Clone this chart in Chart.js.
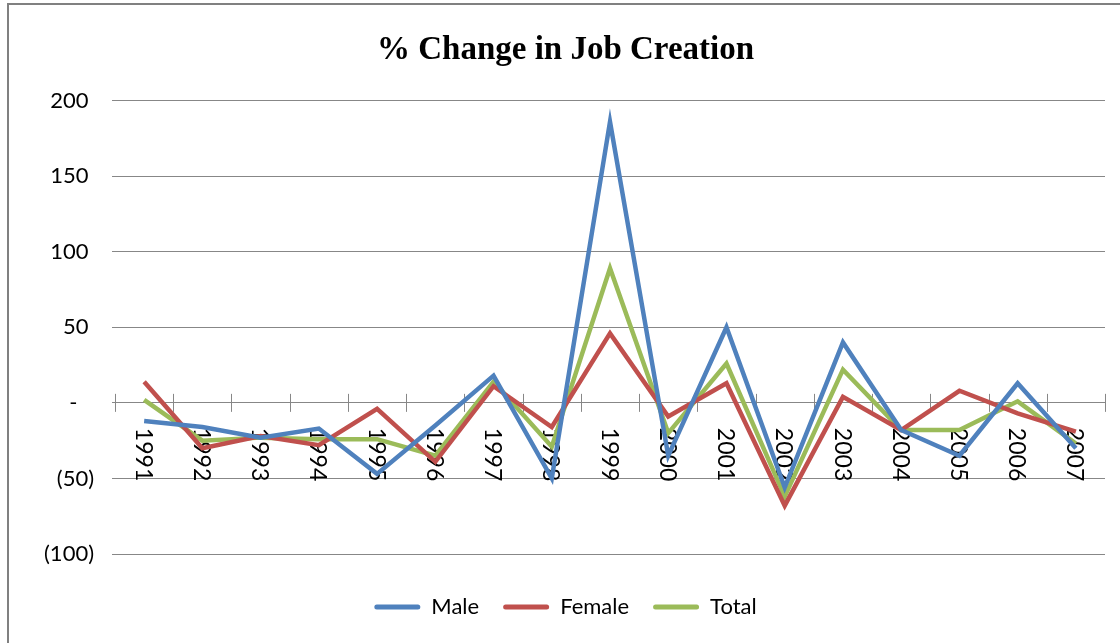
<!DOCTYPE html>
<html>
<head>
<meta charset="utf-8">
<script src="https://cdn.jsdelivr.net/npm/chart.js@4.4.0/dist/chart.umd.min.js"></script>
<style>
html, body { margin: 0; padding: 0; background: #fff; overflow: hidden; }
#wrap { position: relative; width: 1120px; height: 643px; overflow: hidden; }
#c { position: absolute; left: 0; top: 0; }
#frame { position: absolute; left: 7px; top: 3px; width: 1200px; height: 700px;
  border-left: 2px solid #808080; border-top: 2px solid #808080; pointer-events: none; }
</style>
</head>
<body>
<div id="wrap">
  <canvas id="c" width="1120" height="643" style="width:1120px;height:643px"></canvas>
  <div id="frame"></div>
</div>
<script>
// ---- data ----
const years  = ['1991','1992','1993','1994','1995','1996','1997','1998','1999','2000','2001','2002','2003','2004','2005','2006','2007'];
const male   = [-12, -16, -23, -17, -47, -15, 18, -50, 186, -35, 50, -56, 40, -18, -35, 13, -30];
const female = [14, -30, -22, -28, -4, -39, 11, -16, 46, -9, 13, -68, 4, -18, 8, -7, -19];
const total  = [2, -25, -23, -24, -24, -35, 14, -29, 89, -20, 26, -62, 22, -18, -18, 1, -27];
const seriesNames = ['Male', 'Female', 'Total'];
const yTicks = { min: -100, max: 200, step: 50 };
const chartTitle = '% Change in Job Creation';

const colors = ['#4F81BD', '#C0504D', '#9BBB59'];
const gridColor = '#878787';

Chart.defaults.font.family = 'Lato';
Chart.defaults.color = '#000';

function accounting(v) {
  if (v > 0) return v + '\u2005';
  if (v === 0) return '-\u2003';
  return '(' + (-v) + ')';
}

const xLabelPlugin = {
  id: 'xLabels',
  beforeDatasetsDraw(chart) {
    const { ctx, scales: { x, y } } = chart;
    const y0 = y.getPixelForValue(0);
    ctx.save();
    ctx.strokeStyle = gridColor;
    ctx.lineWidth = 1;
    for (let i = 0; i <= years.length; i++) {
      const px = Math.round(x.getPixelForValue(i - 0.5)) + 0.5;
      ctx.beginPath();
      ctx.moveTo(px, y0 - 9);
      ctx.lineTo(px, y0 + 9);
      ctx.stroke();
    }
    ctx.fillStyle = '#000';
    ctx.font = '23px Lato';
    ctx.textAlign = 'left';
    ctx.textBaseline = 'middle';
    years.forEach((lab, i) => {
      const px = x.getPixelForValue(i);
      ctx.save();
      ctx.translate(px - 1, y0 + 25);
      ctx.rotate(Math.PI / 2);
      ctx.fillText(lab, 0, 0);
      ctx.restore();
    });
    ctx.restore();
  }
};

const seriesData = [male, female, total];

new Chart(document.getElementById('c'), {
  type: 'line',
  data: {
    labels: years,
    datasets: seriesData.map((d, i) => ({
      label: seriesNames[i],
      data: d,
      borderColor: colors[i],
      backgroundColor: colors[i],
      borderWidth: 4.5,
      pointRadius: 0,
      pointHoverRadius: 0,
      tension: 0,
      fill: false
    }))
  },
  options: {
    responsive: false,
    animation: false,
    devicePixelRatio: 1,
    layout: { padding: { left: 26, right: 15, top: 8, bottom: 15 } },
    plugins: {
      title: {
        display: true,
        text: chartTitle,
        color: '#000',
        font: { family: 'Liberation Serif', size: 33, weight: 'bold' },
        padding: { top: 23, bottom: 30 }
      },
      legend: {
        position: 'bottom',
        labels: {
          font: { size: 22 },
          color: '#000',
          boxWidth: 46,
          boxHeight: 5,
          padding: 24,
          useBorderRadius: true,
          borderRadius: 2.5,
          generateLabels(chart) {
            return chart.data.datasets.map((ds, i) => ({
              text: ds.label,
              fillStyle: ds.borderColor,
              strokeStyle: ds.borderColor,
              lineWidth: 0,
              borderRadius: 2.5,
              fontColor: '#000',
              hidden: false,
              datasetIndex: i
            }));
          }
        }
      },
      tooltip: { enabled: false }
    },
    scales: {
      x: {
        type: 'category',
        offset: true,
        display: true,
        ticks: { display: false },
        grid: { display: true, drawOnChartArea: false, drawTicks: true, tickLength: 18, color: 'rgba(0,0,0,0)' },
        border: { display: false }
      },
      y: {
        min: yTicks.min,
        max: yTicks.max,
        ticks: {
          stepSize: yTicks.step,
          font: { size: 22 },
          color: '#000',
          padding: 18,
          callback: (v) => accounting(v)
        },
        grid: { color: gridColor, lineWidth: 1, tickLength: 3, drawTicks: true },
        border: { display: false }
      }
    }
  },
  plugins: [xLabelPlugin]
});
</script>
</body>
</html>
